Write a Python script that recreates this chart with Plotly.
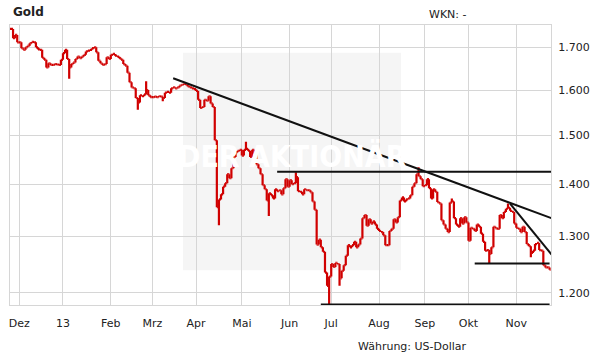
import numpy as np
import pandas as pd
import plotly.graph_objects as go

# ---------------- data (daily closes, USD per ounce) ----------------
START = "2012-11-27"
END = "2013-11-25"

close_2012_11 = [1745, 1722, 1730, 1712]
close_2012_12 = [1712, 1698, 1694, 1700, 1704, 1710, 1713, 1712, 1700, 1695, 1694,
                 1675, 1670, 1652, 1662, 1658, 1658, 1660, 1659, 1658, 1670]
close_2013_01 = [1686, 1694, 1672, 1652, 1660, 1664, 1672, 1678, 1674, 1678, 1682, 1690,
                 1692, 1694, 1698, 1700, 1688, 1668, 1662, 1658, 1660, 1676, 1672]
close_2013_02 = [1682, 1684, 1680, 1678, 1674, 1670, 1660, 1656, 1640, 1618, 1606, 1604,
                 1582, 1572, 1588, 1586, 1590, 1600, 1588, 1584]
close_2013_03 = [1584, 1585, 1584, 1586, 1585, 1582, 1594, 1596, 1594, 1604, 1606, 1604,
                 1606, 1610, 1612, 1614, 1612, 1608, 1606, 1604, 1602]
close_2013_04 = [1598, 1578, 1560, 1562, 1578, 1576, 1586, 1570, 1562, 1490, 1355, 1370,
                 1380, 1395, 1402, 1420, 1412, 1432, 1455, 1465, 1468, 1470]
close_2013_05 = [1458, 1470, 1472, 1468, 1455, 1470, 1462, 1440, 1432, 1420, 1398, 1390,
                 1368, 1382, 1378, 1372, 1390, 1386, 1388, 1380, 1392, 1410, 1395]
close_2013_06 = [1408, 1400, 1402, 1414, 1386, 1385, 1380, 1390, 1388, 1388, 1384, 1366,
                 1350, 1285, 1294, 1280, 1272, 1235, 1212, 1228]
close_2013_07 = [1250, 1245, 1252, 1250, 1225, 1238, 1248, 1265, 1284, 1280, 1284, 1290,
                 1280, 1285, 1296, 1334, 1340, 1320, 1332, 1324, 1328, 1322, 1314]
close_2013_08 = [1310, 1308, 1302, 1284, 1284, 1310, 1314, 1332, 1326, 1336, 1368, 1374,
                 1366, 1370, 1372, 1378, 1395, 1402, 1420, 1416, 1410, 1396]
close_2013_09 = [1398, 1410, 1392, 1372, 1390, 1385, 1365, 1362, 1330, 1322, 1314, 1308,
                 1364, 1366, 1334, 1322, 1318, 1334, 1324, 1336, 1326]
close_2013_10 = [1292, 1316, 1314, 1310, 1322, 1318, 1305, 1290, 1274, 1275, 1268, 1280,
                 1318, 1315, 1314, 1340, 1334, 1346, 1352, 1354, 1348, 1346, 1324]
close_2013_11 = [1316, 1314, 1308, 1318, 1308, 1286, 1282, 1270, 1274, 1286, 1288, 1275,
                 1274, 1248, 1244, 1244, 1240]

# notable intraday extremes
low_dates = ["2013-01-04", "2013-02-20", "2013-03-08", "2013-04-16", "2013-05-20",
             "2013-06-28", "2013-07-05", "2013-10-15", "2013-11-12"]
low_values = [1626, 1556, 1575, 1321, 1338, 1180, 1212, 1251, 1262]
high_dates = ["2013-02-26", "2013-05-03", "2013-06-06", "2013-08-28", "2013-09-19",
              "2013-10-28"]
high_values = [1620, 1487, 1424, 1434, 1372, 1362]

# trend lines drawn on the chart
trend_start_dates = ["2013-03-15", "2013-05-24", "2013-10-29", "2013-10-04", "2013-06-24"]
trend_start_prices = [1627, 1425, 1362, 1251, 1180.5]
trend_end_dates = ["2013-11-26", "2013-11-26", "2013-11-26", "2013-11-25", "2013-11-25"]
trend_end_prices = [1334, 1425, 1267, 1251, 1180.5]

tick_dates = ["2012-12-03", "2013-01-01", "2013-02-01", "2013-03-01", "2013-04-01",
              "2013-05-01", "2013-06-03", "2013-07-01", "2013-08-01", "2013-09-02",
              "2013-10-01", "2013-11-01"]
tick_labels = ["Dez", "13", "Feb", "Mrz", "Apr", "Mai", "Jun", "Jul", "Aug", "Sep",
               "Okt", "Nov"]

y_tick_values = [1200, 1300, 1400, 1500, 1600, 1700]
y_tick_labels = ["1.200", "1.300", "1.400", "1.500", "1.600", "1.700"]

# ---------------- build ----------------
closes = (close_2012_11 + close_2012_12 + close_2013_01 + close_2013_02 + close_2013_03 +
          close_2013_04 + close_2013_05 + close_2013_06 + close_2013_07 + close_2013_08 +
          close_2013_09 + close_2013_10 + close_2013_11)
dates = pd.bdate_range(START, END)
assert len(dates) == len(closes), (len(dates), len(closes))


def pos(d):
    """trading-day (weekday) position counted from START"""
    return int(np.busday_count(np.datetime64(START), np.datetime64(pd.Timestamp(d).date())))


xpos = [pos(d) for d in dates]
opens = [closes[0]] + closes[:-1]
highs = [max(o, c) for o, c in zip(opens, closes)]
lows = [min(o, c) for o, c in zip(opens, closes)]
date_index = {d.strftime("%Y-%m-%d"): i for i, d in enumerate(dates)}
for d, v in zip(low_dates, low_values):
    i = date_index[d]
    lows[i] = min(lows[i], v)
for d, v in zip(high_dates, high_values):
    i = date_index[d]
    highs[i] = max(highs[i], v)

RED = "#d00000"
fig = go.Figure()
fig.add_trace(go.Ohlc(
    x=xpos, open=opens, high=highs, low=lows, close=closes,
    increasing=dict(line=dict(color=RED, width=2.2)),
    decreasing=dict(line=dict(color=RED, width=2.2)),
    tickwidth=0.5, showlegend=False, hoverinfo="skip",
))

for sd, sp, ed, ep in zip(trend_start_dates, trend_start_prices, trend_end_dates, trend_end_prices):
    fig.add_trace(go.Scatter(
        x=[pos(sd), pos(ed)], y=[sp, ep], mode="lines",
        line=dict(color="#111111", width=2), showlegend=False, hoverinfo="skip",
    ))

FONT = "DejaVu Sans, Verdana, sans-serif"
GRID = "#d6d6d6"

fig.update_layout(
    width=611, height=364,
    margin=dict(l=10, r=60, t=25, b=59),
    paper_bgcolor="white", plot_bgcolor="white",
    font=dict(family=FONT, size=11, color="#222222"),
    showlegend=False, hovermode=False,
    xaxis=dict(
        range=[-0.47, 259.69], tickmode="array",
        tickvals=[pos(d) for d in tick_dates], ticktext=tick_labels,
        showgrid=True, gridcolor=GRID, gridwidth=1, zeroline=False,
        showline=True, linecolor=GRID, linewidth=1, mirror=True,
        ticks="outside", ticklen=8, tickcolor="rgba(0,0,0,0)",
        rangeslider=dict(visible=False), fixedrange=True,
        tickfont=dict(family=FONT, size=11, color="#222222"),
    ),
    yaxis=dict(
        type="log", range=[3.071697, 3.244187], side="right",
        tickmode="array", tickvals=y_tick_values, ticktext=y_tick_labels,
        showgrid=True, gridcolor=GRID, gridwidth=1, zeroline=False,
        showline=True, linecolor=GRID, linewidth=1, mirror=True,
        ticks="outside", ticklen=4, tickcolor="rgba(0,0,0,0)", fixedrange=True,
        tickfont=dict(family=FONT, size=11, color="#222222"),
    ),
    shapes=[dict(
        type="rect", xref="paper", yref="paper", x0=0.3198, x1=0.7227, y0=0.124, y1=0.901,
        fillcolor="#f5f5f5", line=dict(width=0), layer="below",
    )],
    annotations=[
        dict(text="DER AKTIONÄR", xref="paper", yref="paper", x=0.522, y=0.53,
             showarrow=False, font=dict(family="Liberation Sans Narrow, DejaVu Sans Condensed, sans-serif",
                                         size=30, color="white", weight="bold")),
        dict(text="<b>Gold</b>", xref="paper", yref="paper", x=0.002, y=1.045,
             xanchor="left", yanchor="middle", showarrow=False,
             font=dict(family=FONT, size=12, color="#222222")),
        dict(text="WKN: -", xref="paper", yref="paper", x=0.771, y=1.039,
             xanchor="left", yanchor="middle", showarrow=False,
             font=dict(family=FONT, size=11, color="#222222")),
        dict(text="Währung: US-Dollar", xref="paper", yref="paper", x=0.640, y=-0.148,
             xanchor="left", yanchor="middle", showarrow=False,
             font=dict(family=FONT, size=11, color="#222222")),
    ],
)

# remove the page's default 8px body margin so the figure sits at the window's corner
fig.write_html("out.html", config={"displayModeBar": False},
               post_script="document.body.style.margin='0';")
